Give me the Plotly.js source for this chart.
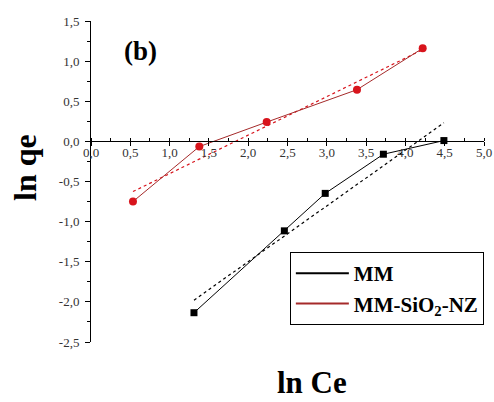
<!DOCTYPE html>
<html>
<head>
<meta charset="utf-8">
<script src="https://cdn.plot.ly/plotly-3.0.1.min.js"></script>
<style>
  html, body { margin: 0; padding: 0; background: #fff; }
  #chart { width: 494px; height: 402px; }
</style>
</head>
<body>
<div id="chart"></div>
<script>
// Freundlich isotherm, linearised: ln qe versus ln Ce
const mmLnCe = [1.31, 2.46, 2.98, 3.72, 4.49];
const mmLnQe = [-2.135, -1.115, -0.648, -0.16, 0.01];
const nzLnCe = [0.534, 1.378, 2.235, 3.384, 4.22];
const nzLnQe = [-0.75, -0.065, 0.24, 0.644, 1.16];
const seriesNames = ['MM', 'MM-SiO<sub>2</sub>-NZ'];
const xTicks = [0, 0.5, 1, 1.5, 2, 2.5, 3, 3.5, 4, 4.5, 5];
const yTicks = [-2.5, -2, -1.5, -1, -0.5, 0, 0.5, 1, 1.5];

// least-squares straight line through a series, drawn over its x span
function linearFit(xs, ys) {
  const n = xs.length;
  const mx = xs.reduce((a, b) => a + b, 0) / n;
  const my = ys.reduce((a, b) => a + b, 0) / n;
  let sxy = 0, sxx = 0;
  for (let i = 0; i < n; i++) {
    sxy += (xs[i] - mx) * (ys[i] - my);
    sxx += (xs[i] - mx) * (xs[i] - mx);
  }
  const k = sxy / sxx, b = my - k * mx;
  const x0 = Math.min(...xs), x1 = Math.max(...xs);
  return { x: [x0, x1], y: [k * x0 + b, k * x1 + b] };
}

const black = '#000000';
const red = '#d8141c';
const redLine = '#a52a2a';
const serif = '"Liberation Serif", "Times New Roman", Times, serif';

const mmFit = linearFit(mmLnCe, mmLnQe);
const nzFit = linearFit(nzLnCe, nzLnQe);

const traces = [
  { x: mmFit.x, y: mmFit.y, mode: 'lines', showlegend: false,
    line: { color: black, width: 1.2, dash: 'dot' }, hoverinfo: 'skip' },
  { x: nzFit.x, y: nzFit.y, mode: 'lines', showlegend: false,
    line: { color: red, width: 1.2, dash: 'dot' }, hoverinfo: 'skip' },
  { x: mmLnCe, y: mmLnQe, mode: 'lines+markers', showlegend: false,
    line: { color: black, width: 1 },
    marker: { symbol: 'square', size: 7, color: black } },
  { x: nzLnCe, y: nzLnQe, mode: 'lines+markers', showlegend: false,
    line: { color: redLine, width: 1 },
    marker: { symbol: 'circle', size: 8, color: red } },
  // legend keys (line only)
  { x: [null], y: [null], mode: 'lines', name: seriesNames[0], legendgroup: 'a',
    line: { color: black, width: 2 } },
  { x: [null], y: [null], mode: 'lines', name: seriesNames[1], legendgroup: 'b',
    line: { color: redLine, width: 2 } }
];

const layout = {
  width: 494, height: 402,
  margin: { l: 91, r: 10, t: 21, b: 60 },
  paper_bgcolor: '#ffffff', plot_bgcolor: '#ffffff',
  separators: ',.',
  font: { family: serif, size: 13, color: '#333' },
  showlegend: true,
  legend: {
    x: 0.506, y: 0.28, xanchor: 'left', yanchor: 'top',
    bordercolor: '#000', borderwidth: 1, bgcolor: '#fff',
    font: { family: serif, size: 21, color: '#000', weight: 'bold' },
    traceorder: 'grouped', tracegroupgap: 0, itemwidth: 53
  },
  xaxis: {
    range: [0, 5], anchor: 'free', position: 0.625,
    tickvals: xTicks, ticktext: xTicks.map(v => v.toFixed(1).replace('.', ',')),
    ticks: 'outside', ticklen: 4, tickwidth: 1, tickcolor: '#000',
    minor: { dtick: 0.25, ticks: 'inside', ticklen: 3, tickcolor: '#000' },
    showline: true, linecolor: '#000', linewidth: 1,
    showgrid: false, zeroline: false,
    ticklabelstandoff: -5,
    tickfont: { family: serif, size: 13, color: '#333' }
  },
  yaxis: {
    range: [-2.5, 1.5],
    tickvals: yTicks, ticktext: yTicks.map(v => v.toFixed(1).replace('.', ',')),
    ticks: 'outside', ticklen: 5, tickwidth: 1, tickcolor: '#000',
    minor: { dtick: 0.25, ticks: 'outside', ticklen: 3, tickcolor: '#000' },
    showline: true, linecolor: '#000', linewidth: 1,
    showgrid: false, zeroline: false,
    ticklabelstandoff: 3,
    tickfont: { family: serif, size: 13, color: '#333' }
  },
  annotations: [
    { text: '(b)', x: 0.636, y: 1.13, xref: 'x', yref: 'y', showarrow: false,
      xanchor: 'center', yanchor: 'middle',
      font: { family: serif, size: 27, color: '#000', weight: 'bold' } },
    { text: 'ln qe', x: 25, y: 168, xref: 'paper', yref: 'paper', showarrow: false,
      xanchor: 'center', yanchor: 'middle', textangle: -90,
      font: { family: serif, size: 32, color: '#000', weight: 'bold' } },
    { text: 'ln Ce', x: 312, y: 383, xref: 'paper', yref: 'paper', showarrow: false,
      xanchor: 'center', yanchor: 'middle',
      font: { family: serif, size: 31, color: '#000', weight: 'bold' } }
  ]
};

// convert the two pixel-placed titles to paper fractions
const pw = 494 - 91 - 10, ph = 402 - 21 - 60;
layout.annotations[1].x = (layout.annotations[1].x - 91) / pw;
layout.annotations[1].y = (402 - 60 - layout.annotations[1].y) / ph;
layout.annotations[2].x = (layout.annotations[2].x - 91) / pw;
layout.annotations[2].y = (402 - 60 - layout.annotations[2].y) / ph;

Plotly.newPlot('chart', traces, layout, { displayModeBar: false, staticPlot: true });
</script>
</body>
</html>
